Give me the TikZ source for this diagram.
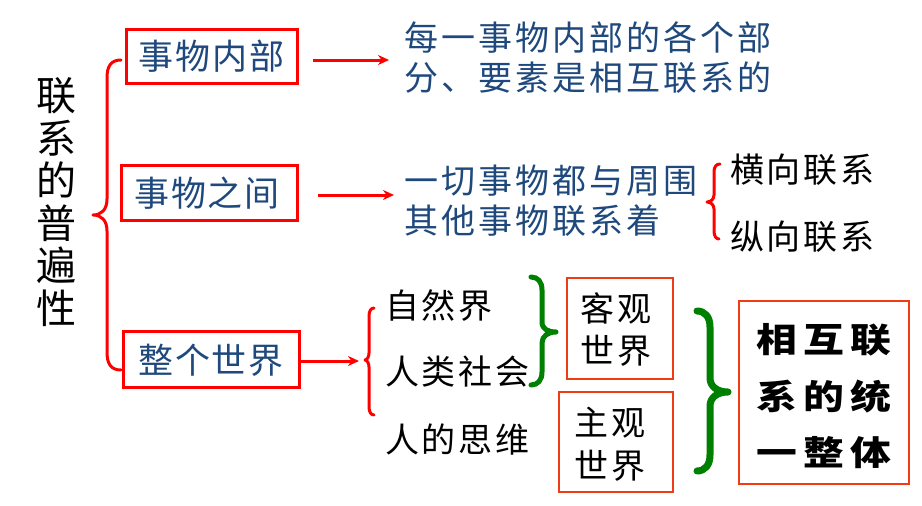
\documentclass[tikz,border=0pt]{standalone}
\usepackage{fontspec}
\setmainfont{Noto Sans CJK SC}
\newfontfamily\cjkbox[LetterSpace=5]{Noto Sans CJK SC}
\newfontfamily\cjkwide[LetterSpace=9]{Noto Sans CJK SC}
\newfontfamily\cjkside[LetterSpace=8]{Noto Sans CJK SC}
\newfontfamily\cjkbold[LetterSpace=15]{Noto Sans CJK SC}
\usetikzlibrary{arrows.meta}
\definecolor{tblue}{RGB}{31,73,125}
\definecolor{bred}{RGB}{255,0,0}
\definecolor{thinred}{RGB}{240,60,20}
\definecolor{bgreen}{RGB}{0,128,0}
\tikzset{
  redbox/.style={draw=bred, line width=3pt, minimum width=#1, minimum height=55pt, inner sep=0pt},
  boxtext/.style={text=tblue, font=\cjkbox\fontsize{35}{35}\selectfont, inner sep=0pt},
  desctext/.style={text=tblue, font=\cjkwide\fontsize{34}{34}\selectfont, inner sep=0pt, anchor=west},
  sidetext/.style={text=black, font=\cjkside\fontsize{34}{34}\selectfont, inner sep=0pt, anchor=west},
  thinbox/.style={draw=thinred, line width=1.2pt, inner sep=0pt},
  arr/.style={draw=bred, line width=3pt, -{Stealth[length=11pt,width=10pt]}},
  redbrace/.style={draw=bred, line width=#1, line cap=round, line join=round},
  greenbrace/.style={draw=bgreen, line width=#1, line cap=round, line join=round},
}
\begin{document}
\begin{tikzpicture}[x=1pt,y=-1pt]
\useasboundingbox (0,0) rectangle (922,506);
% title
\node[font=\fontsize{40}{42.6}\selectfont, align=center, inner sep=0pt] (title) at (56,202) {联\\系\\的\\普\\遍\\性};
% main brace
\draw[redbrace=3pt] (121,60) .. controls (111,60) and (107,66) .. (107,78) -- (107,199) .. controls (107,210) and (101,215) .. (93,215) .. controls (101,215) and (107,220) .. (107,231) -- (107,352) .. controls (107,364) and (111,370) .. (121,370);
% boxes
\node[redbox=171pt, minimum height=54pt] (b1) at (211.5,56) {};
\node[boxtext] (b1t) at (b1.center) {事物内部};
\node[redbox=176pt] (b2) at (209,192.5) {};
\node[boxtext] (b2t) at (207,193) {事物之间};
\node[redbox=176pt, minimum height=56pt] (b3) at (211,359) {};
\node[boxtext] (b3t) at (211,360) {整个世界};
% arrows
\coordinate (a1s) at (313,60);
\coordinate (a1e) at (389,60);
\draw[arr] (a1s) -- (a1e);
\coordinate (a2s) at (318,195);
\coordinate (a2e) at (394,195);
\draw[arr] (a2s) -- (a2e);
\coordinate (a3e) at (359,361);
\draw[arr] (b3.east |- a3e) -- (a3e);
% descriptions
\node[desctext] (d1a) at (404,38) {每一事物内部的各个部};
\node[desctext] (d1b) at (404,78) {分、要素是相互联系的};
\node[desctext] (d2a) at (404,181) {一切事物都与周围};
\node[desctext] (d2b) at (404,221) {其他事物联系着};
% small brace
\draw[redbrace=3pt] (720,164) .. controls (716,164) and (714,167) .. (714,172) -- (714,195) .. controls (714,199) and (711,202) .. (707,202) .. controls (711,202) and (714,205) .. (714,209) -- (714,231) .. controls (714,236) and (716,239) .. (719,239);
\node[sidetext] (h1) at (730,170) {横向联系};
\node[sidetext] (h2) at (730,237) {纵向联系};
% brace 3
\draw[redbrace=3pt] (374,308) .. controls (371,308) and (369,311) .. (369,316) -- (369,353) .. controls (369,357) and (367,360) .. (365,360) .. controls (367,360) and (369,363) .. (369,367) -- (369,407) .. controls (369,412) and (371,415) .. (374,415);
\node[sidetext] (w1) at (385,306) {自然界};
\node[sidetext] (w2) at (385,372) {人类社会};
\node[sidetext] (w3) at (385,440) {人的思维};
% green braces
\draw[greenbrace=5pt] (531,277) .. controls (538,277) and (542,282) .. (542,290) -- (542,322) .. controls (542,329) and (548,332) .. (556,332) .. controls (548,332) and (542,336) .. (542,343) -- (542,372) .. controls (542,380) and (538,385) .. (531,385);
\draw[greenbrace=7pt] (697,311) .. controls (705,311) and (710,317) .. (710,327) -- (710,378) .. controls (710,387) and (718,392) .. (728,392) .. controls (718,392) and (710,397) .. (710,406) -- (710,455) .. controls (710,465) and (705,471) .. (697,471);
% small boxes
\node[thinbox, minimum width=106pt, minimum height=101pt] (k1) at (620,328.5) {};
\node[sidetext, anchor=center] (k1a) at (616,308) {客观};
\node[sidetext, anchor=center] (k1b) at (616,351) {世界};
\node[thinbox, minimum width=114pt, minimum height=100pt] (k2) at (616,442) {};
\node[sidetext, anchor=center] (k2a) at (610,423) {主观};
\node[sidetext, anchor=center] (k2b) at (610,466) {世界};
% big box
\node[thinbox, minimum width=170pt, minimum height=183pt] (k3) at (824,392.5) {};
\node[inner sep=0pt, font=\cjkbold\bfseries\fontsize{34}{34}\selectfont] (k3a) at (824,340) {\scalebox{1.2}[1]{相互联}};
\node[inner sep=0pt, font=\cjkbold\bfseries\fontsize{34}{34}\selectfont] (k3b) at (824,397) {\scalebox{1.2}[1]{系的统}};
\node[inner sep=0pt, font=\cjkbold\bfseries\fontsize{34}{34}\selectfont] (k3c) at (824,453) {\scalebox{1.2}[1]{一整体}};
\end{tikzpicture}
\end{document}
